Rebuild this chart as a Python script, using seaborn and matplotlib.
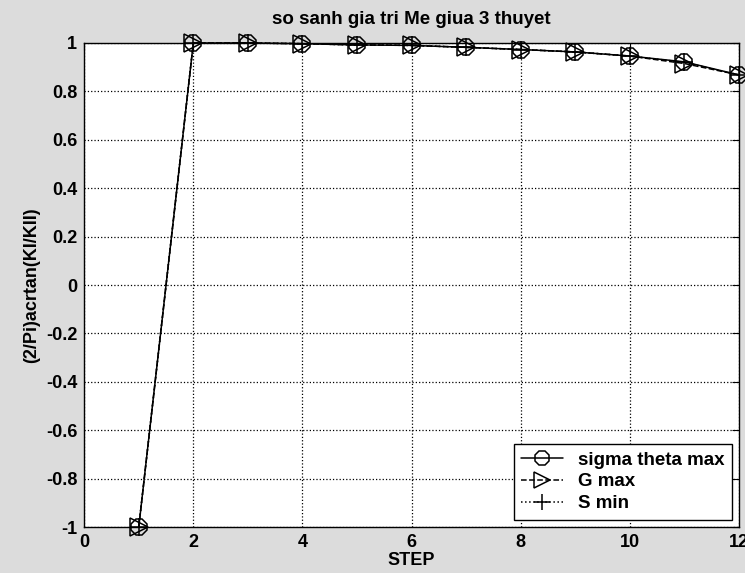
import matplotlib.pyplot as plt
import matplotlib.ticker as mticker
import pandas as pd
import seaborn as sns

steps = [1, 2, 3, 4, 5, 6, 7, 8, 9, 10, 11, 12]
sigma_theta_max = [-1.0, 1.0, 1.0, 0.997, 0.992, 0.99, 0.982, 0.973, 0.963, 0.946, 0.922, 0.868]
g_max = [-1.0, 1.0, 1.0, 0.997, 0.992, 0.99, 0.982, 0.973, 0.963, 0.946, 0.915, 0.868]
s_min = [-1.0, 1.0, 1.0, 0.997, 0.992, 0.99, 0.982, 0.973, 0.963, 0.946, 0.92, 0.868]

x_ticks = [0, 2, 4, 6, 8, 10, 12]
y_ticks = [-1, -0.8, -0.6, -0.4, -0.2, 0, 0.2, 0.4, 0.6, 0.8, 1]
y_labels = ['-1', '-0.8', '-0.6', '-0.4', '-0.2', '0', '0.2', '0.4', '0.6', '0.8', '1']

sns.set_style("white")
plt.rcParams['font.family'] = ['Liberation Sans', 'DejaVu Sans']
plt.rcParams['font.weight'] = 'bold'
plt.rcParams['text.color'] = 'black'
plt.rcParams['axes.labelcolor'] = 'black'

fig = plt.figure(figsize=(7.45, 5.73), dpi=100, facecolor='#dcdcdc')
ax = fig.add_axes([0.113, 0.080, 0.879, 0.845])
ax.set_facecolor('white')

series = [
    ('sigma theta max', sigma_theta_max, '-', '8'),
    ('G max', g_max, '--', '>'),
    ('S min', s_min, ':', '+'),
]
for name, vals, ls, mk in series:
    df = pd.DataFrame({'step': steps, 'val': vals})
    sns.lineplot(data=df, x='step', y='val', ax=ax, color='black', linestyle=ls,
                 marker=mk, markersize=13, markerfacecolor='none',
                 markeredgecolor='black', markeredgewidth=1.1, linewidth=1.1,
                 label=name, clip_on=False, zorder=5)

ax.set_xlim(0, 12)
ax.set_ylim(-1, 1)
ax.xaxis.set_major_locator(mticker.FixedLocator(x_ticks))
ax.yaxis.set_major_locator(mticker.FixedLocator(y_ticks))
ax.set_yticklabels(y_labels)
ax.tick_params(direction='in', length=5, labelsize=13, colors='black', pad=5,
               top=True, right=True)
ax.grid(True, linestyle=':', color='black', linewidth=0.9)
for sp in ax.spines.values():
    sp.set_color('black')
    sp.set_linewidth(1.0)

ax.set_xlabel('STEP', fontsize=13, fontweight='bold', labelpad=1)
ax.set_ylabel('(2/Pi)acrtan(KI/KII)', fontsize=13, fontweight='bold', labelpad=4)
ax.set_title('so sanh gia tri Me giua 3 thuyet', fontsize=13.5, fontweight='bold', pad=14)

leg = ax.legend(loc='lower right', fontsize=13.5, frameon=True, fancybox=False,
                edgecolor='black', framealpha=1, borderaxespad=0.4, handlelength=2.2,
                labelspacing=0.25, markerscale=0.85)
leg.get_frame().set_linewidth(1.0)

fig.savefig('out.png', dpi=100, facecolor=fig.get_facecolor())
